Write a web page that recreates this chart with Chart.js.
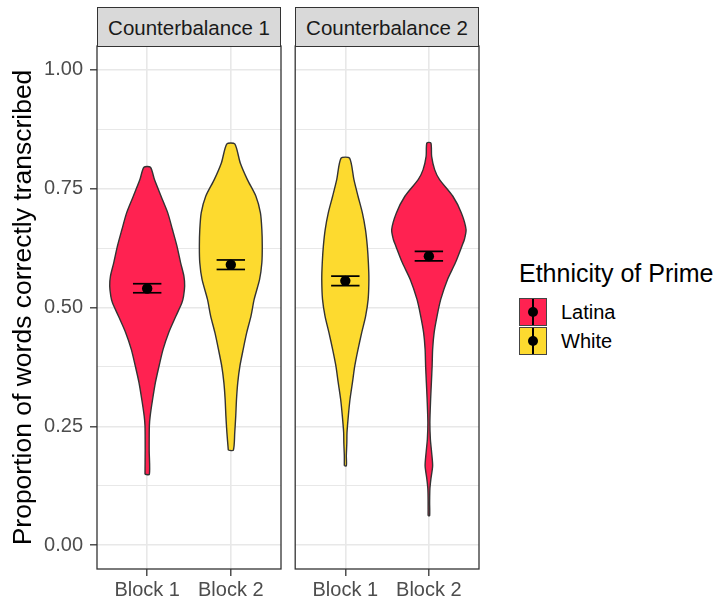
<!DOCTYPE html>
<html>
<head>
<meta charset="utf-8">
<script src="https://cdn.jsdelivr.net/npm/chart.js@4.4.1/dist/chart.umd.min.js"></script>
<style>
  html, body { margin: 0; padding: 0; background: #fff; }
  body { width: 720px; height: 601px; position: relative; overflow: hidden;
         font-family: "Liberation Sans", Arial, sans-serif; }
  canvas { position: absolute; top: 0; }
  #c1 { left: 0; }
  #c2 { left: 290px; }
  .strip { position: absolute; top: 7px; width: 184px; height: 40px; box-sizing: border-box;
           background: #d9d9d9; border: 1.3px solid #333; color: #1a1a1a; font-size: 20.5px;
           display: flex; align-items: center; justify-content: center; padding-top: 2px; }
  .legend-title { position: absolute; left: 519px; top: 259px; font-size: 25px; line-height: 29px; color: #000; }
  .key { position: absolute; left: 519px; width: 28px; height: 28px; box-sizing: border-box; border: 1px solid #444; }
  .key .bar { position: absolute; left: 12.2px; top: 0; width: 1.6px; height: 100%; background: #000; }
  .key .dot { position: absolute; left: 8px; top: 8px; width: 10px; height: 10px; border-radius: 50%; background: #000; }
  .key-label { position: absolute; left: 561px; font-size: 20px; line-height: 28px; color: #000; }
</style>
</head>
<body>
<canvas id="c1" width="290" height="601"></canvas>
<canvas id="c2" width="200" height="601"></canvas>
<div class="strip" style="left:97px">Counterbalance 1</div>
<div class="strip" style="left:295px">Counterbalance 2</div>
<div class="legend-title">Ethnicity of Prime</div>
<div id="legend"></div>
<script>
// === DATA ===
const blocks = ['Block 1', 'Block 2'];
const facets = ['Counterbalance 1', 'Counterbalance 2'];
const primes = ['Latina', 'White'];
const yTicks = [0, 0.125, 0.25, 0.375, 0.5, 0.625, 0.75, 0.875, 1];
const yTickLabels = ['0.00', '', '0.25', '', '0.50', '', '0.75', '', '1.00'];

// which prime was shown in each block, per counterbalance
const cb1Prime = ['Latina', 'White'];
const cb2Prime = ['White', 'Latina'];

// violin outlines: proportion (y) and half-width in block units
const cb1b1Y = [0.149, 0.200, 0.251, 0.272, 0.307, 0.342, 0.377, 0.412, 0.447, 0.482, 0.510, 0.524, 0.545, 0.566, 0.594, 0.629, 0.664, 0.699, 0.734, 0.769, 0.795];
const cb1b1W = [0.026, 0.024, 0.026, 0.036, 0.065, 0.098, 0.142, 0.190, 0.257, 0.344, 0.415, 0.435, 0.448, 0.439, 0.400, 0.356, 0.302, 0.246, 0.166, 0.087, 0.039];
const cb1b2Y = [0.200, 0.237, 0.272, 0.307, 0.342, 0.377, 0.412, 0.447, 0.482, 0.517, 0.559, 0.594, 0.629, 0.664, 0.699, 0.734, 0.769, 0.804, 0.844];
const cb1b2W = [0.030, 0.047, 0.059, 0.068, 0.083, 0.109, 0.148, 0.190, 0.241, 0.279, 0.344, 0.371, 0.376, 0.371, 0.354, 0.300, 0.198, 0.113, 0.047];
const cb2b1Y = [0.167, 0.188, 0.216, 0.237, 0.272, 0.307, 0.342, 0.377, 0.412, 0.447, 0.482, 0.517, 0.559, 0.594, 0.629, 0.664, 0.699, 0.734, 0.769, 0.814];
const cb2b1W = [0.012, 0.012, 0.018, 0.020, 0.036, 0.056, 0.085, 0.113, 0.152, 0.196, 0.243, 0.273, 0.282, 0.276, 0.263, 0.241, 0.204, 0.152, 0.103, 0.051];
const cb2b2Y = [0.062, 0.090, 0.118, 0.139, 0.167, 0.195, 0.223, 0.258, 0.307, 0.342, 0.377, 0.412, 0.447, 0.482, 0.517, 0.559, 0.594, 0.629, 0.643, 0.664, 0.699, 0.734, 0.769, 0.790, 0.818, 0.846];
const cb2b2W = [0.009, 0.009, 0.012, 0.024, 0.045, 0.033, 0.018, 0.012, 0.021, 0.030, 0.039, 0.045, 0.063, 0.098, 0.142, 0.223, 0.317, 0.395, 0.425, 0.445, 0.389, 0.287, 0.128, 0.069, 0.033, 0.024];

// mean +/- standard error
const cb1Mean = [0.540, 0.590];
const cb1Low  = [0.531, 0.580];
const cb1High = [0.550, 0.600];
const cb2Mean = [0.556, 0.608];
const cb2Low  = [0.546, 0.598];
const cb2High = [0.566, 0.618];

// === STYLE ===
const FONT = '"Liberation Sans", Arial, sans-serif';
const PRIME_COLOURS = { Latina: '#FF2251', White: '#FDDA2F' };
const GRID = '#e8e8e8';
const DARK = '#333333';
Chart.defaults.font.family = FONT;

function violinDataset(pos, ys, ws, prime) {
  const right = ys.map((y, i) => ({ x: pos + ws[i], y }));
  const left = ys.map((y, i) => ({ x: pos - ws[i], y })).reverse();
  return {
    data: [left[left.length - 1], ...right, ...left],
    fill: 'shape',
    backgroundColor: PRIME_COLOURS[prime],
    borderColor: DARK,
    borderWidth: 1.4,
    pointRadius: 0,
    tension: 0.25,
    order: 3
  };
}

function segment(pts) {
  return { data: pts, borderColor: '#000', borderWidth: 1.7, pointRadius: 0, fill: false, tension: 0, order: 2 };
}

function errorBars(pos, lo, hi) {
  const cap = 0.17;
  return [
    segment([{ x: pos, y: lo }, { x: pos, y: hi }]),
    segment([{ x: pos - cap, y: lo }, { x: pos + cap, y: lo }]),
    segment([{ x: pos - cap, y: hi }, { x: pos + cap, y: hi }])
  ];
}

// border round each facet panel (theme_bw)
const panelBorder = {
  id: 'panelBorder',
  afterDraw(chart) {
    const { ctx, chartArea: a } = chart;
    ctx.save();
    ctx.strokeStyle = DARK;
    ctx.lineWidth = 1.3;
    ctx.strokeRect(a.left, a.top, a.right - a.left, a.bottom - a.top);
    ctx.restore();
  }
};

function drawPanel(id, violins, prime, mean, low, high, first) {
  const datasets = [];
  mean.forEach((m, i) => datasets.push(...errorBars(i + 1, low[i], high[i])));
  datasets.push({
    data: mean.map((m, i) => ({ x: i + 1, y: m })),
    showLine: false, pointRadius: 5.2, pointBackgroundColor: '#000', pointBorderWidth: 0, order: 1
  });
  violins.forEach((v, i) => datasets.push(violinDataset(i + 1, v[0], v[1], prime[i])));

  return new Chart(document.getElementById(id), {
    type: 'line',
    data: { datasets },
    options: {
      responsive: false,
      animation: false,
      devicePixelRatio: 1,
      events: [],
      layout: { padding: first ? { top: 46, left: 0, right: 9, bottom: 0 } : { top: 46, left: 5, right: 11, bottom: 0 } },
      plugins: { legend: { display: false }, tooltip: { enabled: false } },
      scales: {
        x: {
          type: 'linear', min: 0.4, max: 2.6,
          afterBuildTicks: a => { a.ticks = blocks.map((b, i) => ({ value: i + 1 })); },
          afterFit: a => { a.height = 32; },
          ticks: { callback: v => blocks[v - 1], color: '#4d4d4d', font: { size: 20 }, padding: 2, maxRotation: 0, autoSkip: false },
          grid: { color: GRID, lineWidth: 1.6, tickColor: DARK, tickLength: 7, tickWidth: 1.3 },
          border: { display: false }
        },
        y: {
          type: 'linear', min: -0.05, max: 1.05,
          afterBuildTicks: a => { a.ticks = yTicks.map(v => ({ value: v })); },
          afterFit: a => { a.width = first ? 97 : 0; },
          ticks: { display: first, callback: (v, i) => yTickLabels[i], color: '#4d4d4d', font: { size: 20 }, padding: 7, autoSkip: false },
          grid: {
            color: GRID,
            lineWidth: c => yTickLabels[c.index] ? 1.6 : 1.1,
            drawTicks: first,
            tickColor: c => yTickLabels[c.index] ? DARK : 'rgba(0,0,0,0)',
            tickLength: 7, tickWidth: 1.3
          },
          border: { display: false },
          title: {
            display: first, text: 'Proportion of words correctly transcribed',
            color: '#000', font: { size: 26.5 }, padding: { top: 8, bottom: 0 }
          }
        }
      }
    },
    plugins: [panelBorder]
  });
}

drawPanel('c1', [[cb1b1Y, cb1b1W], [cb1b2Y, cb1b2W]], cb1Prime, cb1Mean, cb1Low, cb1High, true);
drawPanel('c2', [[cb2b1Y, cb2b1W], [cb2b2Y, cb2b2W]], cb2Prime, cb2Mean, cb2Low, cb2High, false);

// === LEGEND ===
const legend = document.getElementById('legend');
primes.forEach((p, i) => {
  const top = 298 + i * 29;
  legend.innerHTML += `<div class="key" style="top:${top}px;background:${PRIME_COLOURS[p]}"><div class="bar"></div><div class="dot"></div></div>` +
    `<div class="key-label" style="top:${top}px">${p}</div>`;
});
</script>
</body>
</html>
